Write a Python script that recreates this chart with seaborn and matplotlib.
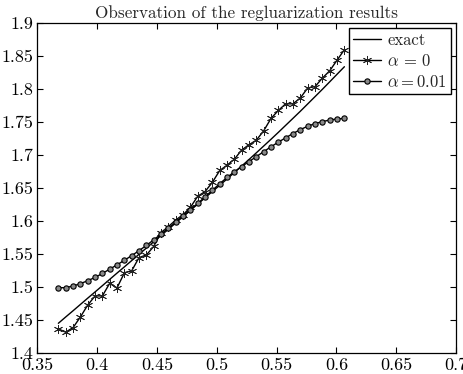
import matplotlib
matplotlib.use("Agg")
import matplotlib.pyplot as plt
import seaborn as sns

x_vals = [0.3676, 0.3737, 0.3799, 0.3860, 0.3921, 0.3983, 0.4044, 0.4105, 0.4166, 0.4228,
          0.4289, 0.4350, 0.4412, 0.4473, 0.4534, 0.4596, 0.4657, 0.4718, 0.4779, 0.4841,
          0.4902, 0.4963, 0.5025, 0.5086, 0.5147, 0.5208, 0.5270, 0.5331, 0.5392, 0.5454,
          0.5515, 0.5576, 0.5637, 0.5699, 0.5760, 0.5821, 0.5883, 0.5944, 0.6005, 0.6067]

exact_vals = [1.4455, 1.4550, 1.4645, 1.4740, 1.4835, 1.4930, 1.5025, 1.5120, 1.5215, 1.5310,
              1.5405, 1.5500, 1.5595, 1.5690, 1.5785, 1.5880, 1.5975, 1.6071, 1.6166, 1.6261,
              1.6356, 1.6451, 1.6546, 1.6642, 1.6739, 1.6837, 1.6937, 1.7038, 1.7140, 1.7244,
              1.7348, 1.7454, 1.7560, 1.7668, 1.7778, 1.7888, 1.8000, 1.8113, 1.8227, 1.8342]

alpha0_vals = [1.437, 1.432, 1.439, 1.455, 1.473, 1.487, 1.487, 1.506, 1.499, 1.522,
               1.525, 1.545, 1.549, 1.562, 1.583, 1.592, 1.602, 1.610, 1.621, 1.638,
               1.645, 1.659, 1.677, 1.685, 1.694, 1.708, 1.716, 1.723, 1.737, 1.756,
               1.768, 1.778, 1.778, 1.787, 1.802, 1.804, 1.817, 1.828, 1.844, 1.860]

alpha001_vals = [1.4994, 1.4994, 1.5020, 1.5055, 1.5100, 1.5150, 1.5210, 1.5275, 1.5340, 1.5410,
                 1.5480, 1.5555, 1.5635, 1.5720, 1.5805, 1.5895, 1.5985, 1.6080, 1.6175, 1.6270,
                 1.6370, 1.6470, 1.6570, 1.6665, 1.6750, 1.6830, 1.6905, 1.6980, 1.7055, 1.7130,
                 1.7200, 1.7265, 1.7330, 1.7390, 1.7440, 1.7480, 1.7510, 1.7535, 1.7550, 1.7560]

series_labels = ["exact", r"$\alpha\,=\,0$", r"$\alpha=0.01$"]
title_text = "Observation of the regluarization results"

x_ticks = [0.35, 0.4, 0.45, 0.5, 0.55, 0.6, 0.65, 0.7]
x_tick_labels = ["0.35", "0.4", "0.45", "0.5", "0.55", "0.6", "0.65", "0.7"]
y_ticks = [1.4, 1.45, 1.5, 1.55, 1.6, 1.65, 1.7, 1.75, 1.8, 1.85, 1.9]
y_tick_labels = ["1.4", "1.45", "1.5", "1.55", "1.6", "1.65", "1.7", "1.75", "1.8", "1.85", "1.9"]

sns.set_style("ticks")
plt.rcParams["font.family"] = ["cmr10", "DejaVu Serif"]
plt.rcParams["mathtext.fontset"] = "cm"
plt.rcParams["axes.formatter.use_mathtext"] = True
plt.rcParams["axes.unicode_minus"] = False

fig = plt.figure(figsize=(4.64, 3.74), dpi=100)
ax = fig.add_axes([0.0804, 0.0553, 0.9828 - 0.0804, 0.9377 - 0.0553])

sns.lineplot(x=x_vals, y=exact_vals, ax=ax, color="black", linewidth=1.0,
             label=series_labels[0])
sns.lineplot(x=x_vals, y=alpha0_vals, ax=ax, color="black", linewidth=1.0,
             label=series_labels[1])
star_line = ax.lines[-1]
star_line.set_marker((6, 2, 0))
star_line.set_markersize(6.5)
star_line.set_markeredgewidth(0.6)
star_line.set_markeredgecolor("#222222")
star_line.set_linestyle("-")
sns.lineplot(x=x_vals, y=alpha001_vals, ax=ax, color="black", linewidth=1.0,
             label=series_labels[2])
circ_line = ax.lines[-1]
circ_line.set_marker("o")
circ_line.set_markersize(3.8)
circ_line.set_markerfacecolor("#888888")
circ_line.set_markeredgecolor("black")
circ_line.set_markeredgewidth(0.8)
circ_line.set_linestyle("-")

ax.set_xlim(0.35, 0.7)
ax.set_ylim(1.4, 1.9)
ax.set_xticks(x_ticks)
ax.set_xticklabels(x_tick_labels)
ax.set_yticks(y_ticks)
ax.set_yticklabels(y_tick_labels)
ax.tick_params(direction="in", length=4, width=0.8, top=True, right=True,
               labelsize=13, pad=3, colors="black")
for s in ax.spines.values():
    s.set_visible(True)
    s.set_linewidth(0.9)
    s.set_color("black")
ax.set_xlabel("")
ax.set_ylabel("")
ax.set_title(title_text, fontsize=12.3, pad=4)

leg = ax.legend(loc="upper right", fontsize=12, frameon=True, fancybox=False,
                edgecolor="black", framealpha=1, borderaxespad=0.3,
                handlelength=1.7, handletextpad=0.35, borderpad=0.25,
                labelspacing=0.3)
leg.get_frame().set_linewidth(1.0)

fig.savefig("out.png", dpi=100)
